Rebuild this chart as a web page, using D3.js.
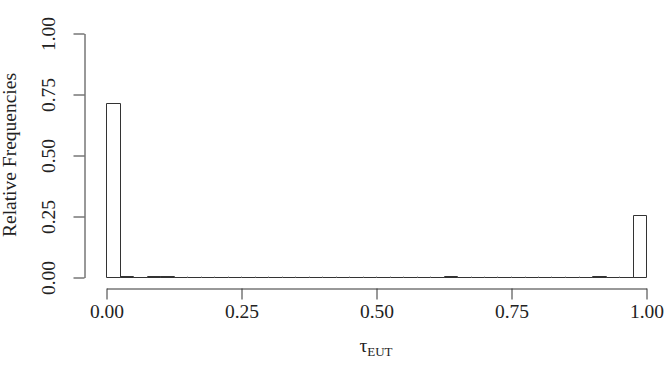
<!DOCTYPE html>
<html>
<head>
<meta charset="utf-8">
<script src="https://cdn.jsdelivr.net/npm/d3@7"></script>
<style>
  html, body { margin: 0; padding: 0; background: #fff; }
  svg text { font-family: "Liberation Serif", "Times New Roman", serif; fill: #222; }
</style>
</head>
<body>
<svg id="chart" width="670" height="392"></svg>
<script>
// ---- data ----
const binWidth = 0.025;
const binStarts = [0.000,0.025,0.050,0.075,0.100,0.125,0.150,0.175,0.200,0.225,
                   0.250,0.275,0.300,0.325,0.350,0.375,0.400,0.425,0.450,0.475,
                   0.500,0.525,0.550,0.575,0.600,0.625,0.650,0.675,0.700,0.725,
                   0.750,0.775,0.800,0.825,0.850,0.875,0.900,0.925,0.950,0.975];
const frequencies = [0.712,0.004,0,0.004,0.004,0,0,0,0,0,
                     0,0,0,0,0,0,0,0,0,0,
                     0,0,0,0,0,0.004,0,0,0,0,
                     0,0,0,0,0,0,0.004,0,0,0.254];
const xTicks = [0, 0.25, 0.5, 0.75, 1.0];
const yTicks = [0, 0.25, 0.5, 0.75, 1.0];
const xTickLabels = ["0.00", "0.25", "0.50", "0.75", "1.00"];
const yTickLabels = ["0.00", "0.25", "0.50", "0.75", "1.00"];
const yTitle = "Relative Frequencies";

// ---- layout ----
const svg = d3.select("#chart");
const x = d3.scaleLinear().domain([0, 1]).range([106, 646]);
const y = d3.scaleLinear().domain([0, 1]).range([277, 33]);
const stroke = "#333";

// bars (drawn as outlines so empty bins still show on the baseline)
svg.append("g").selectAll("path")
  .data(binStarts.map((s, i) => ({ s, v: frequencies[i] })))
  .join("path")
  .attr("d", d => {
    const x0 = Math.round(x(d.s)) + 0.5;
    const x1 = Math.round(x(d.s + binWidth)) + 0.5;
    const yb = Math.round(y(0)) + 0.5;
    const yt = Math.round(y(d.v)) + 0.5;
    return `M${x0},${yb}V${yt}H${x1}V${yb}Z`;
  })
  .attr("fill", "none")
  .attr("stroke", stroke)
  .attr("stroke-width", 1);

// small edge marks between empty bins (as seen along the baseline)
svg.append("g").selectAll("line")
  .data(binStarts.filter((s, i) => frequencies[i] === 0 && i > 0 && frequencies[i - 1] === 0))
  .join("line")
  .attr("x1", d => Math.round(x(d)) + 0.5)
  .attr("x2", d => Math.round(x(d)) + 0.5)
  .attr("y1", Math.round(y(0)) - 0.5)
  .attr("y2", Math.round(y(0)) + 0.5)
  .attr("stroke", "#888");

// x axis (R style: detached)
const xAxis = d3.axisBottom(x).tickValues(xTicks)
  .tickFormat((d, i) => xTickLabels[i]).tickSize(11).tickPadding(5).tickSizeOuter(0);
const gx = svg.append("g").attr("transform", "translate(0.5,288.5)").call(xAxis);
gx.select(".domain").attr("stroke", stroke);
gx.selectAll(".tick line").attr("stroke", stroke);
gx.selectAll(".tick text").attr("font-size", "19.5px").attr("fill", "#222")
  .attr("font-family", "Liberation Serif");

// y axis
const yAxis = d3.axisLeft(y).tickValues(yTicks)
  .tickFormat((d, i) => yTickLabels[i]).tickSize(11).tickSizeOuter(0);
const gy = svg.append("g").attr("transform", "translate(84.5,0.5)").call(yAxis);
gy.select(".domain").attr("stroke", stroke);
gy.selectAll(".tick line").attr("stroke", stroke);
gy.selectAll(".tick text")
  .attr("font-size", "19.5px").attr("fill", "#222").attr("font-family", "Liberation Serif")
  .attr("text-anchor", "middle")
  .attr("dy", null)
  .attr("x", null)
  .attr("transform", "translate(-30,0) rotate(-90)");

// axis titles
svg.append("text")
  .attr("transform", `translate(16,${(y(0) + y(1)) / 2}) rotate(-90)`)
  .attr("text-anchor", "middle")
  .attr("font-size", "19.5px")
  .text(yTitle);

const xt = svg.append("text")
  .attr("x", (x(0) + x(1)) / 2)
  .attr("y", 352)
  .attr("text-anchor", "middle")
  .attr("font-size", "19.5px");
xt.append("tspan").text("τ");
xt.append("tspan").attr("font-size", "13px").attr("dy", 4).text("EUT");
</script>
</body>
</html>
